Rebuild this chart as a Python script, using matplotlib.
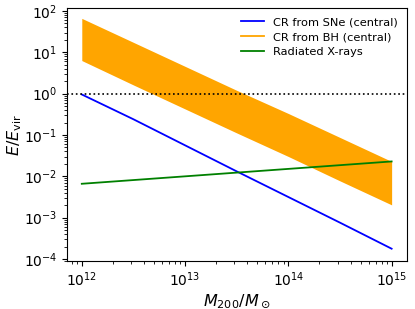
"""
Energy budget vs halo mass
"""
import numpy as np
import matplotlib.pyplot as plt
from matplotlib.lines import Line2D

# log10 halo mass sample points
log_mass = [12.0, 12.5, 13.0, 13.5, 14.0, 14.5, 15.0]
# log10 E/E_vir
log_cr_sne = [-0.02, -0.62, -1.25, -1.88, -2.50, -3.12, -3.75]
log_cr_bh_high = [1.82, 1.24, 0.66, 0.08, -0.48, -1.06, -1.64]
log_cr_bh_low = [0.80, 0.21, -0.37, -0.95, -1.52, -2.11, -2.69]
log_xrays = [-2.18, -2.09, -2.00, -1.91, -1.82, -1.73, -1.64]
labels = ['CR from SNe (central)', 'CR from BH (central)', 'Radiated X-rays']

mass = 10 ** np.array(log_mass)

fig, ax = plt.subplots(figsize=(4.15, 3.09), dpi=100)
fig.subplots_adjust(left=0.161, right=0.981, bottom=0.155, top=0.974)

ax.plot(mass, 10 ** np.array(log_cr_sne), color='blue', lw=1.3)
ax.fill_between(mass, 10 ** np.array(log_cr_bh_low), 10 ** np.array(log_cr_bh_high),
                color='orange', lw=0)
ax.plot(mass, 10 ** np.array(log_xrays), color='green', lw=1.3)
ax.axhline(1.0, color='black', ls=':', lw=1.2)

ax.set_xscale('log')
ax.set_yscale('log')
ax.set_xlim(10 ** 11.855, 10 ** 15.15)
ax.set_ylim(10 ** -4.05, 10 ** 2.07)
ax.set_xlabel(r'$M_{200}/M_\odot$', fontsize=11.5, labelpad=2)
ax.set_ylabel(r'$E/E_{\rm vir}$', fontsize=11.5, labelpad=0)
ax.tick_params(labelsize=10)

# legend shows plain lines for all three, including the band
proxy = [Line2D([], [], color=c, lw=1.3) for c in ('blue', 'orange', 'green')]
ax.legend(proxy, labels, loc='upper right', frameon=False, fontsize=8.2,
          labelspacing=0.45, handlelength=2.0, borderaxespad=0.4)

fig.savefig('out.png')
plt.close(fig)
